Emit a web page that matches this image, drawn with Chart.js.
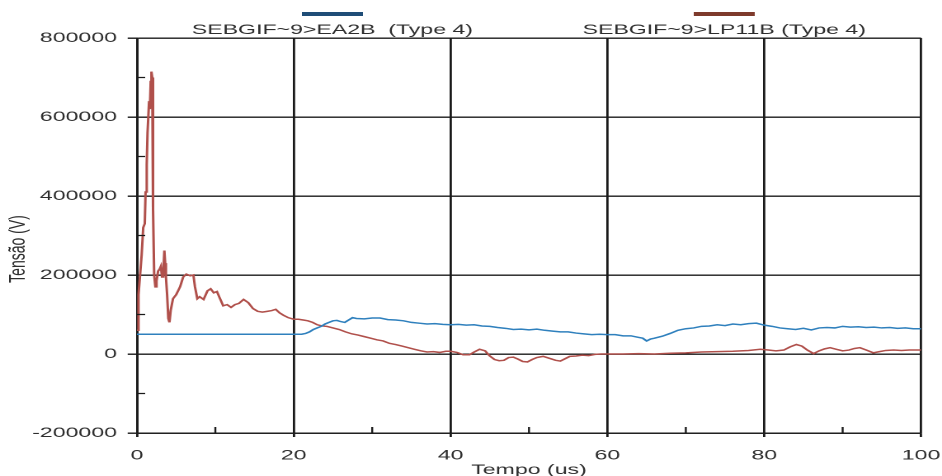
<!DOCTYPE html>
<html>
<head>
<meta charset="utf-8">
<script src="https://cdn.jsdelivr.net/npm/chart.js@4"></script>
<style>
    html, body { margin: 0; padding: 0; background: #fff; }
    canvas { display: block; }
</style>
</head>
<body>
<!-- drawn narrow and shown wide, so text and vertical strokes come out stretched -->
<canvas id="chart" width="571" height="476" style="width:942px;height:476px"></canvas>
<script>
// Series names
const seriesNames = ['SEBGIF~9>EA2B  (Type 4)', 'SEBGIF~9>LP11B (Type 4)'];

// EA2B voltage trace
const ea2bTime = [0, 21, 21.5, 22, 22.5, 23, 23.5, 24, 24.5, 25, 25.5, 26, 26.5, 27, 27.5, 28, 29, 30, 31, 32,
    33, 34, 35, 36, 37, 38, 39, 40, 41, 42, 43, 44, 45, 46, 47, 48, 49, 50, 51, 52, 53, 54, 55, 56, 57, 58, 59,
    60, 61, 62, 63, 64, 64.5, 65, 65.5, 66, 67, 68, 69, 70, 71, 72, 73, 74, 75, 76, 77, 78, 79, 80, 81, 82, 83,
    84, 85, 86, 87, 88, 89, 90, 91, 92, 93, 94, 95, 96, 97, 98, 99, 100];
const ea2bVolts = [50000, 50000, 52000, 56000, 62000, 66000, 70000, 76000, 80000, 84000, 85000, 82000, 80000,
    86000, 92000, 90000, 89000, 91000, 91000, 87000, 86000, 84000, 80000, 78000, 76000, 77000, 75000, 74000,
    75000, 73000, 74000, 71000, 70000, 67000, 65000, 62000, 63000, 61000, 63000, 60000, 58000, 56000, 56000,
    53000, 51000, 49000, 50000, 49000, 49000, 46000, 46000, 42000, 40000, 33000, 38000, 40000, 45000, 52000,
    60000, 64000, 66000, 70000, 71000, 74000, 72000, 76000, 74000, 77000, 78000, 73000, 70000, 66000, 64000,
    62000, 65000, 61000, 66000, 67000, 66000, 70000, 68000, 69000, 67000, 68000, 66000, 67000, 65000, 66000,
    64000, 64000];

// LP11B voltage trace
const lp11bTime = [0, 0.2, 0.4, 0.6, 0.8, 1.0, 1.1, 1.25, 1.35, 1.45, 1.55, 1.65, 1.75, 1.85, 1.95, 2.0, 2.1,
    2.2, 2.35, 2.5, 2.7, 2.9, 3.05, 3.2, 3.35, 3.5, 3.6, 3.7, 3.85, 4.0, 4.15, 4.3, 4.6, 5.0, 5.5, 5.9, 6.3, 6.8,
    7.2, 7.4, 7.7, 8.0, 8.5, 9.0, 9.4, 9.8, 10.2, 10.6, 11.0, 11.5, 12.0, 12.5, 13.0, 13.6, 14.2, 14.8, 15.4,
    16.0, 16.6, 17.2, 17.7, 18.2, 18.7, 19.3, 20.0, 20.6, 21.2, 21.8, 22.4, 23.0, 23.6, 24.2, 25.0, 25.8, 26.6,
    27.4, 28.2, 29.0, 29.8, 30.6, 31.4, 32.2, 33.0, 33.8, 34.6, 35.4, 36.2, 37.0, 37.8, 38.6, 39.4, 40.0, 40.8,
    41.6, 42.4, 43.0, 43.7, 44.4, 45.0, 45.6, 46.2, 46.8, 47.4, 48.0, 48.6, 49.2, 49.8, 50.4, 51.0, 51.8, 52.6,
    53.4, 54.0, 54.6, 55.2, 56.0, 56.8, 57.6, 58.4, 59.2, 60, 62, 64, 66, 68, 70, 72, 74, 76, 78, 79.5, 80.5,
    81.5, 82.5, 83.3, 84.1, 84.8, 85.5, 86.3, 87.0, 87.7, 88.4, 89.2, 90.0, 90.8, 91.5, 92.2, 93.0, 93.9, 94.7,
    95.5, 96.5, 97.5, 98.5, 100];
const lp11bVolts = [60000, 150000, 200000, 250000, 320000, 330000, 410000, 480000, 560000, 560000, 640000,
    620000, 690000, 715000, 700000, 580000, 370000, 200000, 170000, 185000, 210000, 215000, 222000, 195000,
    200000, 262000, 230000, 195000, 150000, 90000, 80000, 110000, 140000, 150000, 170000, 195000, 202000,
    198000, 200000, 170000, 140000, 145000, 138000, 160000, 165000, 155000, 158000, 140000, 122000, 125000,
    118000, 125000, 128000, 138000, 130000, 115000, 108000, 106000, 108000, 110000, 113000, 104000, 98000,
    92000, 88000, 88000, 86000, 84000, 80000, 74000, 71000, 70000, 66000, 62000, 56000, 51000, 48000, 44000,
    40000, 36000, 33000, 27000, 24000, 20000, 16000, 12000, 8000, 5000, 6000, 4000, 7000, 7000, 4000, -2000,
    -2000, 5000, 12000, 8000, -5000, -14000, -17000, -16000, -9000, -8000, -13000, -19000, -20000, -14000,
    -9000, -6000, -11000, -16000, -18000, -12000, -6000, -5000, -3000, -4000, -1000, 0, 0, 0, 1000, 0, 2000,
    3000, 5000, 6000, 7000, 9000, 12000, 10000, 8000, 10000, 18000, 24000, 20000, 10000, 1000, 8000, 13000,
    16000, 12000, 8000, 10000, 14000, 16000, 10000, 3000, 6000, 9000, 10000, 9000, 10000, 10000];

// Unlabelled minor ticks
const xMinorTicks = [10, 30, 50, 70, 90];
const yMinorTicks = [700000, 500000, 300000, 100000, -100000];

const FONT = '"Liberation Sans", Arial, sans-serif';
const TEXT_COLOR = '#2e2e2e';
const GRID_COLOR = '#1a1a1a';
const lineColors = ['#2f80bd', '#b0504b'];
const legendColors = ['#1f4d77', '#7e3a2c'];

function toPoints(xs, ys) {
    return xs.map((x, i) => ({x: x, y: ys[i]}));
}

/**
 * Draws the legend above the plot, the rotated y title and the minor ticks.
 */
const decorations = {
    id: 'decorations',
    afterDraw(chart) {
        const ctx = chart.ctx;
        const area = chart.chartArea;
        const xs = chart.scales.x;
        const ys = chart.scales.y;
        ctx.save();

        // minor ticks, pointing into the plot
        ctx.strokeStyle = GRID_COLOR;
        ctx.lineWidth = 1.2;
        ctx.beginPath();
        xMinorTicks.forEach(v => {
            const px = xs.getPixelForValue(v);
            ctx.moveTo(px, area.bottom);
            ctx.lineTo(px, area.bottom - 6);
        });
        yMinorTicks.forEach(v => {
            const py = ys.getPixelForValue(v);
            ctx.moveTo(area.left, py);
            ctx.lineTo(area.left + 5, py);
        });
        ctx.stroke();

        // legend: a short bar above each series name
        const centers = [201.5, 439];
        ctx.font = '14px ' + FONT;
        ctx.textAlign = 'center';
        ctx.textBaseline = 'middle';
        seriesNames.forEach((name, i) => {
            ctx.strokeStyle = legendColors[i];
            ctx.lineWidth = 4;
            ctx.beginPath();
            ctx.moveTo(centers[i] - 18.5, 14);
            ctx.lineTo(centers[i] + 18.5, 14);
            ctx.stroke();
            ctx.fillStyle = TEXT_COLOR;
            ctx.fillText(name, centers[i], 30);
        });

        // y axis title
        ctx.translate(11, 249);
        ctx.rotate(-Math.PI / 2);
        ctx.fillText('Tensão (V)', 0, 0);
        ctx.restore();
    }
};

new Chart(document.getElementById('chart'), {
    type: 'scatter',
    data: {
        datasets: [
            {
                label: seriesNames[0],
                data: toPoints(ea2bTime, ea2bVolts),
                showLine: true,
                borderColor: lineColors[0],
                borderWidth: 1.5,
                pointRadius: 0
            },
            {
                label: seriesNames[1],
                data: toPoints(lp11bTime, lp11bVolts),
                showLine: true,
                borderColor: lineColors[1],
                borderWidth: 1.5,
                pointRadius: 0
            }
        ]
    },
    options: {
        responsive: false,
        devicePixelRatio: 2,
        animation: false,
        layout: {padding: {left: 0, right: 0, top: 38, bottom: 0}},
        plugins: {
            legend: {display: false},
            tooltip: {enabled: false}
        },
        scales: {
            x: {
                type: 'linear',
                min: 0,
                max: 100,
                ticks: {stepSize: 20, padding: 10, color: TEXT_COLOR, font: {family: FONT, size: 14}},
                grid: {color: GRID_COLOR, lineWidth: 1.4, tickLength: 4},
                border: {color: GRID_COLOR, width: 1.4},
                title: {
                    display: true,
                    text: 'Tempo (us)',
                    color: TEXT_COLOR,
                    padding: {top: 0, bottom: -1},
                    font: {family: FONT, size: 14, lineHeight: 1}
                },
                afterFit(scale) {
                    scale.height = 43;
                    scale.paddingRight = 12.7;
                }
            },
            y: {
                min: -200000,
                max: 800000,
                ticks: {
                    stepSize: 200000,
                    padding: 6.5,
                    color: TEXT_COLOR,
                    font: {family: FONT, size: 14},
                    callback: value => String(value)
                },
                grid: {color: GRID_COLOR, lineWidth: 1.4, tickLength: 5.6},
                border: {color: GRID_COLOR, width: 1.4},
                afterFit(scale) {
                    scale.width = 83;
                }
            }
        }
    },
    plugins: [decorations]
});
</script>
</body>
</html>
